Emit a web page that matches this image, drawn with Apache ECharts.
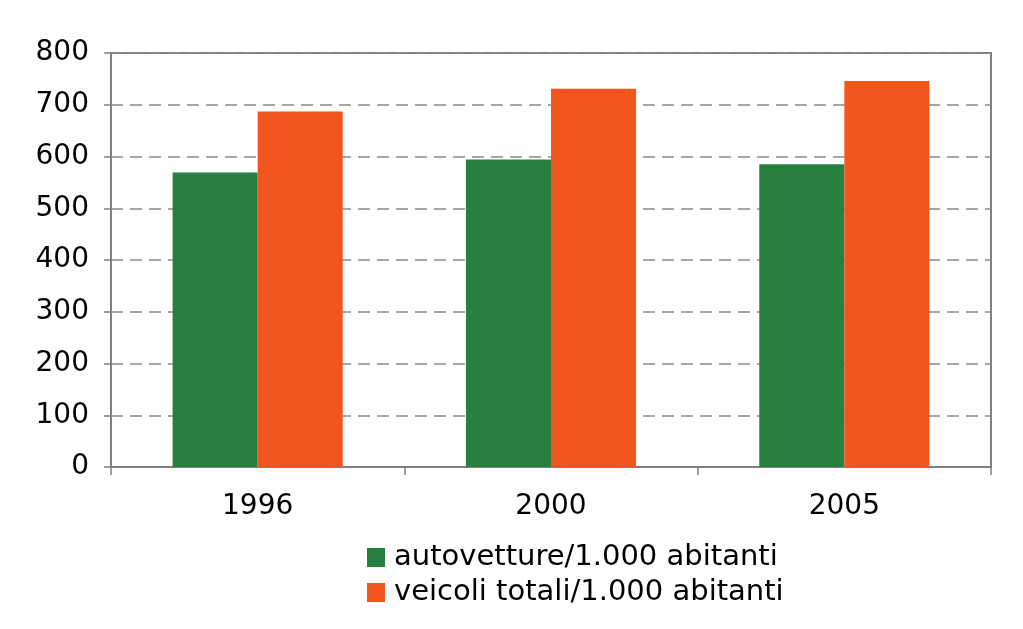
<!DOCTYPE html>
<html><head><meta charset="utf-8">
<script src="https://cdn.jsdelivr.net/npm/echarts@6/dist/echarts.min.js"></script>
<style>html,body{margin:0;padding:0;background:#fff}#c{width:1023px;height:629px}</style>
</head><body><div id="c"></div>
<script>
const categories = ['1996', '2000', '2005'];
const autovetture = [569, 594, 585];
const veicoliTotali = [687, 731, 746];
const seriesNames = ['autovetture/1.000 abitanti', 'veicoli totali/1.000 abitanti'];

const font = 'DejaVu Sans';
const chart = echarts.init(document.getElementById('c'));
chart.setOption({
  animation: false,
  backgroundColor: '#fff',
  grid: {left: 111, right: 32, top: 53, bottom: 162, show: true, borderColor: '#808080', borderWidth: 2},
  legend: {
    orient: 'vertical', left: 362, top: 538, itemWidth: 18, itemHeight: 19, itemGap: 6,
    icon: 'rect',
    textStyle: {fontFamily: font, fontSize: 29, color: '#000', padding: [0,0,0,4]},
    data: seriesNames
  },
  xAxis: {
    type: 'category', data: categories,
    axisLine: {lineStyle: {color: '#808080', width: 2}},
    axisTick: {show: true, length: 8, lineStyle: {color: '#808080', width: 1.5}},
    axisLabel: {fontFamily: font, fontSize: 28, color: '#000', margin: 26}
  },
  yAxis: {
    type: 'value', min: 0, max: 800, interval: 100,
    axisLine: {show: true, lineStyle: {color: '#808080', width: 2}},
    axisTick: {show: true, length: 7, lineStyle: {color: '#808080', width: 1.5}},
    axisLabel: {fontFamily: font, fontSize: 28, color: '#000', margin: 22},
    splitLine: {lineStyle: {color: '#8a8a8a', type: [12, 7], width: 1.5}}
  },
  series: [
    {name: seriesNames[0], type: 'bar', data: autovetture, itemStyle: {color: '#27803D'}, barGap: '0%', barCategoryGap: '42%'},
    {name: seriesNames[1], type: 'bar', data: veicoliTotali, itemStyle: {color: '#F0561E'}, barGap: '0%', barCategoryGap: '42%'}
  ]
});
</script></body></html>
